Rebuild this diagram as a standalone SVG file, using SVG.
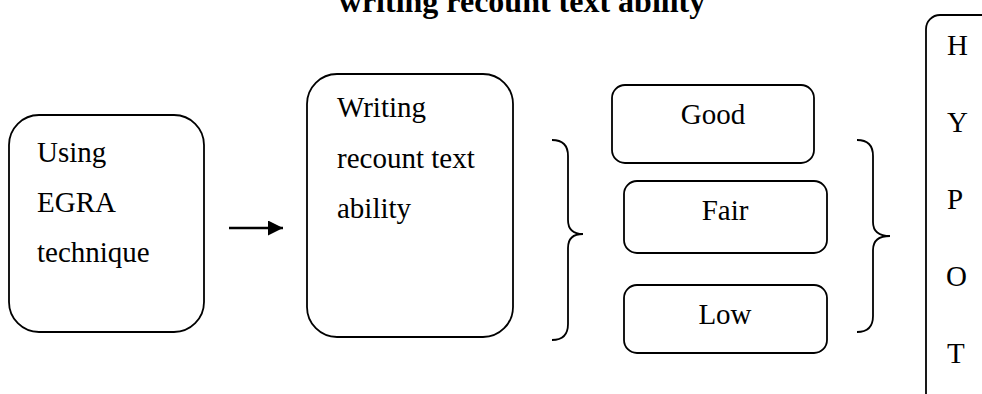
<svg xmlns="http://www.w3.org/2000/svg" width="982" height="394" viewBox="0 0 982 394">
<defs>
<style>
.box{fill:#fff;stroke:#000;stroke-width:1.8}
.t{font-family:"Liberation Serif","Times New Roman",serif;font-size:29px;fill:#000}
.title{font-family:"Liberation Serif","Times New Roman",serif;font-size:32px;font-weight:bold;fill:#000}
.br{fill:none;stroke:#000;stroke-width:1.8}
.c{text-anchor:middle}
</style>
<marker id="ah" markerWidth="16" markerHeight="16" refX="15" refY="7.5" orient="auto" markerUnits="userSpaceOnUse">
<path d="M0,0 L15,7.5 L0,15 Z" fill="#000"/>
</marker>
</defs>
<rect width="982" height="394" fill="#fff"/>
<text class="title c" x="522" y="12">writing recount text ability</text>
<g id="node-egra">
<rect class="box" x="9" y="115" width="195" height="217" rx="30"/>
<text class="t" x="37" y="162">Using</text>
<text class="t" x="37" y="212">EGRA</text>
<text class="t" x="37" y="262">technique</text>
</g>
<g id="node-writing">
<rect class="box" x="307" y="74" width="206" height="263" rx="30"/>
<text class="t" x="337" y="117">Writing</text>
<text class="t" x="337" y="168">recount text</text>
<text class="t" x="337" y="218">ability</text>
</g>
<g id="node-good">
<rect class="box" x="612" y="85" width="202" height="78" rx="13"/>
<text class="t c" x="713" y="124">Good</text>
</g>
<g id="node-fair">
<rect class="box" x="624" y="181" width="203" height="72" rx="13"/>
<text class="t c" x="725" y="220">Fair</text>
</g>
<g id="node-low">
<rect class="box" x="624" y="285" width="203" height="68" rx="13"/>
<text class="t c" x="725" y="324">Low</text>
</g>
<g id="node-hypot">
<rect class="box" x="926" y="15" width="100" height="400" rx="14"/>
<text class="t" x="947" y="55">H</text>
<text class="t" x="947" y="132">Y</text>
<text class="t" x="947" y="209">P</text>
<text class="t" x="946" y="286">O</text>
<text class="t" x="947" y="363">T</text>
</g>
<g id="connectors">
<line x1="229" y1="228" x2="283" y2="228" stroke="#000" stroke-width="2.5" marker-end="url(#ah)"/>
<path class="br" d="M552,140 Q568,140 568,156 L568,220 Q568,234 583,234 Q568,234 568,248 L568,324 Q568,340 552,340"/>
<path class="br" d="M857,140 Q873,140 873,156 L873,222 Q873,236 890,236 Q873,236 873,250 L873,316 Q873,332 857,332"/>
</g>
</svg>
